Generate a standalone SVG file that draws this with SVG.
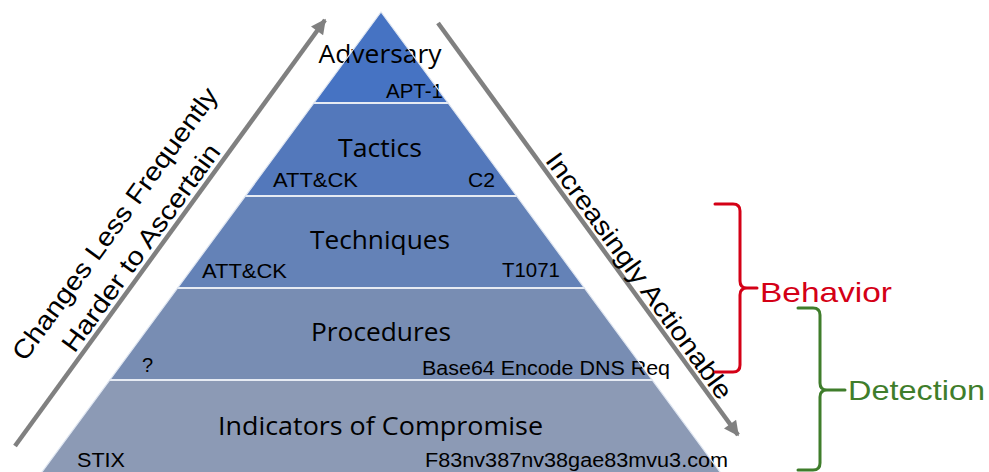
<svg xmlns="http://www.w3.org/2000/svg" width="989" height="472" viewBox="0 0 989 472">
  <defs>
    <marker id="head" viewBox="0 0 10 10" refX="9" refY="5" markerUnits="userSpaceOnUse" markerWidth="17" markerHeight="15" orient="auto">
      <path d="M0,0 L10,5 L0,10 Z" fill="#808080"/>
    </marker>
    <style>
      .band { stroke: none; }
      .divider { stroke: #e6ebf3; stroke-width: 2; }
      .title { font-family: "Open Sans", "Noto Sans", sans-serif; font-size: 25px; fill: #000; text-anchor: middle; }
      .tag { font-family: "Liberation Sans", Arial, sans-serif; font-size: 20px; fill: #000; }
      .side { font-family: "Liberation Sans", Arial, sans-serif; font-size: 26px; fill: #000; text-anchor: middle; }
      .arrow { stroke: #808080; stroke-width: 4.5; fill: none; marker-end: url(#head); }
      .brace { fill: none; stroke-width: 3; stroke-linejoin: round; stroke-linecap: round; }
    </style>
  </defs>

  <rect width="989" height="472" fill="#ffffff"/>

  <!-- pyramid layers, apex at (381,12) -->
  <g id="adversary">
    <polygon class="band" points="381,12 448.1,103 313.9,103" fill="#4673c3"/>
    <text class="title" x="380" y="63" textLength="123" lengthAdjust="spacingAndGlyphs">Adversary</text>
    <text class="tag" x="386" y="98" textLength="57" lengthAdjust="spacingAndGlyphs">APT-1</text>
  </g>
  <g id="tactics">
    <polygon class="band" points="313.9,103 448.1,103 516.6,196 245.4,196" fill="#5378bb"/>
    <text class="title" x="380" y="157" textLength="84" lengthAdjust="spacingAndGlyphs">Tactics</text>
    <text class="tag" x="273" y="187" textLength="85" lengthAdjust="spacingAndGlyphs">ATT&amp;CK</text>
    <text class="tag" x="468" y="187" textLength="27" lengthAdjust="spacingAndGlyphs">C2</text>
  </g>
  <g id="techniques">
    <polygon class="band" points="245.4,196 516.6,196 584.4,288 177.6,288" fill="#6482b7"/>
    <text class="title" x="380" y="249" textLength="140" lengthAdjust="spacingAndGlyphs">Techniques</text>
    <text class="tag" x="202" y="278" textLength="85" lengthAdjust="spacingAndGlyphs">ATT&amp;CK</text>
    <text class="tag" x="502" y="277" textLength="58" lengthAdjust="spacingAndGlyphs">T1071</text>
  </g>
  <g id="procedures">
    <polygon class="band" points="177.6,288 584.4,288 652.2,380 109.8,380" fill="#788db3"/>
    <text class="title" x="381" y="341" textLength="140" lengthAdjust="spacingAndGlyphs">Procedures</text>
    <text class="tag" x="142" y="372">?</text>
    <text class="tag" x="422" y="375" textLength="248" lengthAdjust="spacingAndGlyphs">Base64 Encode DNS Req</text>
  </g>
  <g id="indicators">
    <polygon class="band" points="109.8,380 652.2,380 725.9,480 36.1,480" fill="#8c9ab5"/>
    <text class="title" x="380.5" y="435" textLength="325" lengthAdjust="spacingAndGlyphs">Indicators of Compromise</text>
    <text class="tag" x="77" y="467" textLength="48" lengthAdjust="spacingAndGlyphs">STIX</text>
    <text class="tag" x="425" y="467" textLength="303" lengthAdjust="spacingAndGlyphs">F83nv387nv38gae83mvu3.com</text>
  </g>

  <!-- layer separators and outline -->
  <g id="separators">
    <line class="divider" x1="313.9" y1="103" x2="448.1" y2="103"/>
    <line class="divider" x1="245.4" y1="196" x2="516.6" y2="196"/>
    <line class="divider" x1="177.6" y1="288" x2="584.4" y2="288"/>
    <line class="divider" x1="109.8" y1="380" x2="652.2" y2="380"/>
    <polyline points="36.1,480 381,12 725.9,480" fill="none" stroke="#dfe6f1" stroke-width="1.2"/>
  </g>

  <!-- side arrows -->
  <g id="connectors">
    <line class="arrow" x1="15" y1="446" x2="325" y2="20"/>
    <line class="arrow" x1="438" y1="23" x2="738" y2="435"/>
  </g>

  <g id="left-caption">
    <text class="side" transform="translate(122,229) rotate(-54)" textLength="330" lengthAdjust="spacingAndGlyphs">Changes Less Frequently</text>
    <text class="side" transform="translate(148,253) rotate(-54)" textLength="250" lengthAdjust="spacingAndGlyphs">Harder to Ascertain</text>
  </g>
  <g id="right-caption">
    <text class="side" transform="translate(632,281) rotate(54)" textLength="298" lengthAdjust="spacingAndGlyphs">Increasingly Actionable</text>
  </g>

  <!-- grouping braces -->
  <g id="behavior">
    <path class="brace" stroke="#d40016" d="M715,204 H733 Q740,204 740,211 V281 Q740,288 747,288 H757 M747,288 Q740,288 740,295 V365 Q740,372 733,372 H715"/>
    <text x="760" y="302" font-family="Liberation Sans, Arial, sans-serif" font-size="28" fill="#d40016" textLength="132" lengthAdjust="spacingAndGlyphs">Behavior</text>
  </g>
  <g id="detection">
    <path class="brace" stroke="#3f7d2b" d="M798,308 H813 Q820,308 820,315 V383 Q820,390 827,390 H845 M827,390 Q820,390 820,397 V463 Q820,470 813,470 H798"/>
    <text x="848" y="400" font-family="Liberation Sans, Arial, sans-serif" font-size="28" fill="#3f7d2b" textLength="137" lengthAdjust="spacingAndGlyphs">Detection</text>
  </g>
</svg>
